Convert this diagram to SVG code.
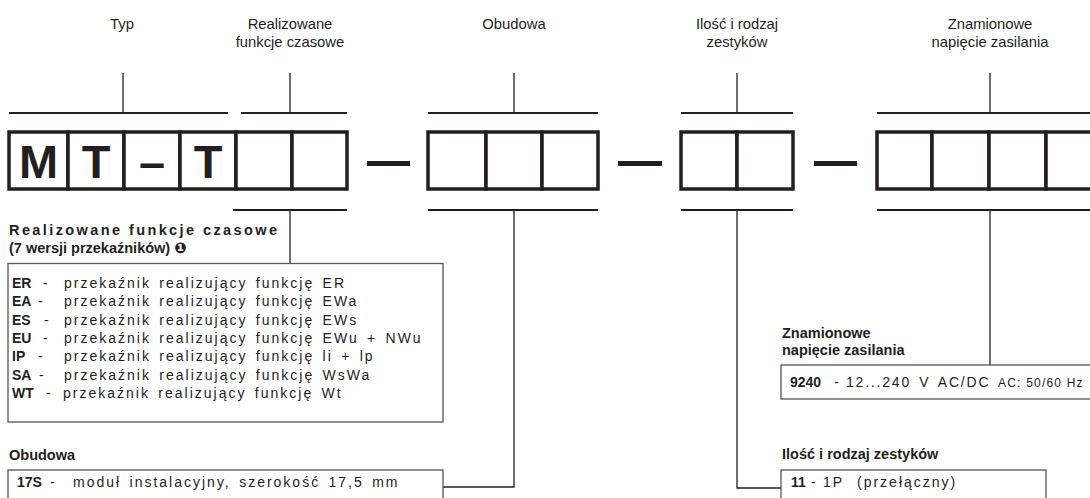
<svg xmlns="http://www.w3.org/2000/svg" width="1090" height="498" viewBox="0 0 1090 498">
<style>
text{font-family:"Liberation Sans","DejaVu Sans",Arial,sans-serif;fill:#231f20}
.lbl{font-size:14.8px;text-anchor:middle}
.hd{font-size:14.5px;font-weight:bold}
.bd{font-size:14px;letter-spacing:2px;word-spacing:2.5px}
.b{font-weight:bold;letter-spacing:0}
.big{font-size:47px;font-weight:bold;text-anchor:middle}
.sm{font-size:12px;letter-spacing:1.2px;word-spacing:0}
.cell{fill:#fff;stroke:#231f20;stroke-width:3.5}
.bar{stroke:#231f20;stroke-width:2;fill:none}
.tick{stroke:#231f20;stroke-width:1.3;fill:none}
.tb{fill:#fff;stroke:#555;stroke-width:1.3}
.sep{fill:#231f20}
</style>

<g id="labels">
<text class="lbl" x="122" y="29">Typ</text>
<text class="lbl" x="290" y="29">Realizowane</text>
<text class="lbl" x="290" y="46.5">funkcje czasowe</text>
<text class="lbl" x="514" y="29">Obudowa</text>
<text class="lbl" x="737" y="29">Ilość i rodzaj</text>
<text class="lbl" x="737" y="46.5">zestyków</text>
<text class="lbl" x="990" y="29">Znamionowe</text>
<text class="lbl" x="990" y="46.5">napięcie zasilania</text>
</g>

<g id="code-typ">
<rect class="cell" x="9" y="132" width="59" height="57"/>
<rect class="cell" x="68" y="132" width="56" height="57"/>
<rect class="cell" x="124" y="132" width="56" height="57"/>
<rect class="cell" x="180" y="132" width="56" height="57"/>
<text class="big" x="38.5" y="178">M</text>
<text class="big" x="96" y="178">T</text>
<text class="big" x="152" y="178">–</text>
<text class="big" x="208" y="178">T</text>
</g>

<g id="code-funkcje">
<rect class="cell" x="236" y="132" width="56" height="57"/>
<rect class="cell" x="292" y="132" width="55" height="57"/>
</g>

<g id="code-obudowa">
<rect class="cell" x="428" y="132" width="58" height="57"/>
<rect class="cell" x="486" y="132" width="56" height="57"/>
<rect class="cell" x="542" y="132" width="56" height="57"/>
</g>

<g id="code-zestyki">
<rect class="cell" x="681" y="132" width="56" height="57"/>
<rect class="cell" x="737" y="132" width="56" height="57"/>
</g>

<g id="code-napiecie">
<rect class="cell" x="877" y="132" width="55" height="57"/>
<rect class="cell" x="932" y="132" width="57" height="57"/>
<rect class="cell" x="989" y="132" width="57" height="57"/>
<rect class="cell" x="1046" y="132" width="57" height="57"/>
</g>

<g id="separators">
<rect class="sep" x="367" y="161" width="43" height="5"/>
<rect class="sep" x="618" y="161" width="44" height="5"/>
<rect class="sep" x="814" y="161" width="43" height="5"/>
</g>

<g id="connectors">
<line class="bar" x1="9" y1="113" x2="228" y2="113"/>
<line class="bar" x1="241" y1="113" x2="347" y2="113"/>
<line class="bar" x1="428" y1="113" x2="598" y2="113"/>
<line class="bar" x1="681" y1="113" x2="793" y2="113"/>
<line class="bar" x1="877" y1="113" x2="1090" y2="113"/>
<line class="tick" x1="123" y1="73" x2="123" y2="113"/>
<line class="tick" x1="290" y1="73" x2="290" y2="113"/>
<line class="tick" x1="514" y1="73" x2="514" y2="113"/>
<line class="tick" x1="737" y1="73" x2="737" y2="113"/>
<line class="tick" x1="990" y1="73" x2="990" y2="113"/>
<line class="bar" x1="233" y1="210" x2="347" y2="210"/>
<line class="bar" x1="428" y1="210" x2="598" y2="210"/>
<line class="bar" x1="681" y1="210" x2="793" y2="210"/>
<line class="bar" x1="877" y1="210" x2="1090" y2="210"/>
<polyline class="tick" points="290,210 290,263"/>
<polyline class="tick" points="514,210 514,487 443,487"/>
<polyline class="tick" points="737,210 737,488 781,488"/>
<polyline class="tick" points="990,210 990,365"/>
</g>

<g id="funkcje">
<text class="hd" x="9" y="235" textLength="268" lengthAdjust="spacing">Realizowane funkcje czasowe</text>
<text class="hd" x="9" y="253">(7 wersji przekaźników) ❶</text>
<rect class="tb" x="8" y="263.5" width="435" height="158.5"/>
<text class="bd" y="288"><tspan class="b" x="12">ER</tspan><tspan x="43">-</tspan><tspan x="64">przekaźnik realizujący funkcję ER</tspan></text>
<text class="bd" y="306.3"><tspan class="b" x="12">EA</tspan><tspan x="38">-</tspan><tspan x="64">przekaźnik realizujący funkcję EWa</tspan></text>
<text class="bd" y="324.6"><tspan class="b" x="12">ES</tspan><tspan x="44">-</tspan><tspan x="64">przekaźnik realizujący funkcję EWs</tspan></text>
<text class="bd" y="342.9"><tspan class="b" x="12">EU</tspan><tspan x="43">-</tspan><tspan x="64">przekaźnik realizujący funkcję EWu + NWu</tspan></text>
<text class="bd" y="361.2"><tspan class="b" x="12">IP</tspan><tspan x="38">-</tspan><tspan x="64">przekaźnik realizujący funkcję li + lp</tspan></text>
<text class="bd" y="379.5"><tspan class="b" x="12">SA</tspan><tspan x="39">-</tspan><tspan x="64">przekaźnik realizujący funkcję WsWa</tspan></text>
<text class="bd" y="397.8"><tspan class="b" x="12">WT</tspan><tspan x="46">-</tspan><tspan x="63">przekaźnik realizujący funkcję Wt</tspan></text>
</g>

<g id="obudowa">
<text class="hd" x="9" y="460">Obudowa</text>
<rect class="tb" x="8" y="470" width="435" height="40"/>
<text class="bd" y="487"><tspan class="b" x="17">17S</tspan><tspan x="50">-</tspan><tspan x="73">moduł instalacyjny, szerokość 17,5 mm</tspan></text>
</g>

<g id="napiecie">
<text class="hd" x="782" y="338">Znamionowe</text>
<text class="hd" x="782" y="355">napięcie zasilania</text>
<rect class="tb" x="781" y="365" width="320" height="34"/>
<text class="bd" y="387"><tspan class="b" x="790">9240</tspan><tspan x="834">-</tspan><tspan x="846" letter-spacing="1.8">12...240 V AC/DC</tspan><tspan class="sm" x="998">AC: 50/60 Hz</tspan></text>
</g>

<g id="zestyki">
<text class="hd" x="782" y="459">Ilość i rodzaj zestyków</text>
<rect class="tb" x="781" y="470" width="265" height="40"/>
<text class="bd" y="487"><tspan class="b" x="791">11</tspan><tspan x="811">-</tspan><tspan x="823">1P</tspan><tspan x="857">(przełączny)</tspan></text>
</g>
</svg>
